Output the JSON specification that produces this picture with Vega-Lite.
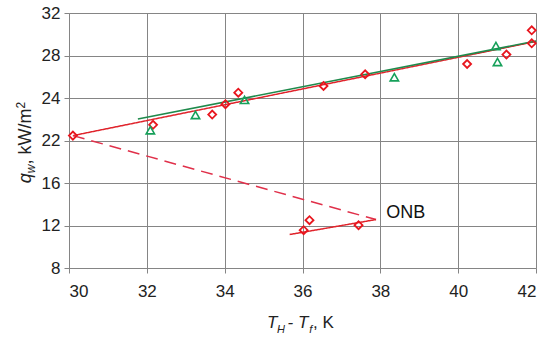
{
  "$schema": "https://vega.github.io/schema/vega-lite/v6.json",
  "width": 467,
  "height": 255,
  "autosize": "none",
  "padding": {"left": 69, "top": 13, "right": 14, "bottom": 76},
  "background": "white",
  "config": {
    "view": {"stroke": null},
    "font": "Liberation Sans",
    "axis": {
      "labelFont": "Liberation Sans",
      "titleFont": "Liberation Sans",
      "labelFontSize": 17,
      "labelColor": "#222222",
      "titleColor": "#222222",
      "titleFontWeight": "normal",
      "gridColor": "#858585",
      "gridOpacity": 1,
      "domainColor": "#858585",
      "tickColor": "#858585"
    }
  },
  "datasets": {
    "diamonds": [
      {"dT": 30.1, "q": 22.23},
      {"dT": 32.16, "q": 22.74},
      {"dT": 33.68, "q": 23.22},
      {"dT": 34.02, "q": 23.71},
      {"dT": 34.35, "q": 24.5},
      {"dT": 36.54, "q": 25.13},
      {"dT": 37.61, "q": 26.23},
      {"dT": 40.23, "q": 27.2},
      {"dT": 41.24, "q": 28.09},
      {"dT": 41.89, "q": 29.15},
      {"dT": 41.89, "q": 30.37},
      {"dT": 36.03, "q": 11.56},
      {"dT": 36.18, "q": 12.5},
      {"dT": 37.44, "q": 12.03}
    ],
    "triangles": [
      {"dT": 32.09, "q": 22.48},
      {"dT": 33.25, "q": 23.2},
      {"dT": 34.51, "q": 23.91},
      {"dT": 38.36, "q": 25.95},
      {"dT": 40.97, "q": 28.89},
      {"dT": 41.01, "q": 27.39}
    ],
    "lines": [
      {"dT": 30.1, "q": 22.23, "line": "fit red"},
      {"dT": 42.0, "q": 29.32, "line": "fit red"},
      {"dT": 30.1, "q": 22.23, "line": "dashed"},
      {"dT": 37.89, "q": 12.56, "line": "dashed"},
      {"dT": 35.67, "q": 11.15, "line": "low"},
      {"dT": 37.89, "q": 12.56, "line": "low"}
    ],
    "greenline": [
      {"dT": 31.77, "q": 23.01},
      {"dT": 42.0, "q": 29.36}
    ],
    "label": [
      {"dT": 38.15, "q": 13.22, "text": "ONB"}
    ]
  },
  "layer": [
    {
      "data": {"name": "lines"},
      "mark": {"type": "line", "strokeWidth": 1.5},
      "encoding": {
        "x": {
          "field": "dT", "type": "quantitative",
          "scale": {"domain": [30, 42], "nice": false, "zero": false},
          "axis": {
            "values": [30, 32, 34, 36, 38, 40, 42],
            "grid": true, "tickSize": 5, "labelPadding": 10,
            "title": "T", "titleFontStyle": "italic", "titleFontSize": 17,
            "titleX": 197.5, "titleY": 59.5, "titleAlign": "left", "titleBaseline": "alphabetic", "titleAnchor": null
          }
        },
        "y": {
          "field": "q", "type": "quantitative",
          "scale": {"domain": [8, 12, 16, 22, 24, 28, 32], "range": [255, 212.5, 170, 127.5, 85, 42.5, 0], "nice": false, "zero": false},
          "axis": {
            "values": [8, 12, 16, 22, 24, 28, 32],
            "grid": true, "tickSize": 5, "labelPadding": 4, "labelBaseline": "middle",
            "title": "q", "titleFontStyle": "italic", "titleFontSize": 18,
            "titleAngle": 270, "titleX": -38.3, "titleY": 169.7, "titleAlign": "left", "titleBaseline": "alphabetic", "titleAnchor": null
          }
        },
        "detail": {"field": "line"},
        "color": {
          "field": "line", "type": "nominal", "legend": null,
          "scale": {"domain": ["fit red", "dashed", "low"], "range": ["#e0242c", "#e0304a", "#e0242c"]}
        },
        "strokeDash": {
          "field": "line", "type": "nominal", "legend": null,
          "scale": {"domain": ["fit red", "dashed", "low"], "range": [[1, 0], [12, 7], [1, 0]]}
        }
      }
    },
    {
      "data": {"name": "greenline"},
      "mark": {"type": "line", "strokeWidth": 1.6, "color": "#1f8a4c"},
      "encoding": {
        "x": {
          "field": "dT", "type": "quantitative",
          "axis": {
            "orient": "bottom", "grid": false, "labels": false, "ticks": false, "domain": false,
            "title": ", K", "titleFontStyle": "normal", "titleFontSize": 17,
            "titleX": 243.5, "titleY": 59.5, "titleAlign": "left", "titleBaseline": "alphabetic", "titleAnchor": null
          }
        },
        "y": {
          "field": "q", "type": "quantitative",
          "axis": null
        }
      }
    },
    {
      "data": {"name": "diamonds"},
      "mark": {"type": "point", "shape": "diamond", "filled": false, "size": 64, "strokeWidth": 1.8, "color": "#e8161e", "opacity": 1},
      "encoding": {
        "x": {
          "field": "dT", "type": "quantitative",
          "axis": {
            "orient": "bottom", "grid": false, "labels": false, "ticks": false, "domain": false,
            "title": "H", "titleFontStyle": "italic", "titleFontSize": 11,
            "titleX": 207.5, "titleY": 64, "titleAlign": "left", "titleBaseline": "alphabetic", "titleAnchor": null
          }
        },
        "y": {
          "field": "q", "type": "quantitative",
          "axis": {
            "orient": "left", "grid": false, "labels": false, "ticks": false, "domain": false,
            "title": "w", "titleFontStyle": "italic", "titleFontSize": 12,
            "titleAngle": 270, "titleX": -34.3, "titleY": 159.7, "titleAlign": "left", "titleBaseline": "alphabetic", "titleAnchor": null
          }
        }
      }
    },
    {
      "data": {"name": "triangles"},
      "mark": {"type": "point", "shape": "triangle-up", "filled": false, "size": 70, "strokeWidth": 1.6, "color": "#16a05a", "opacity": 1},
      "encoding": {
        "x": {
          "field": "dT", "type": "quantitative",
          "axis": {
            "orient": "bottom", "grid": false, "labels": false, "ticks": false, "domain": false,
            "title": "- T", "titleFontStyle": "italic", "titleFontSize": 17,
            "titleX": 218, "titleY": 59.5, "titleAlign": "left", "titleBaseline": "alphabetic", "titleAnchor": null
          }
        },
        "y": {
          "field": "q", "type": "quantitative",
          "axis": {
            "orient": "left", "grid": false, "labels": false, "ticks": false, "domain": false,
            "title": ", kW/m", "titleFontStyle": "normal", "titleFontSize": 18,
            "titleAngle": 270, "titleX": -38.3, "titleY": 151, "titleAlign": "left", "titleBaseline": "alphabetic", "titleAnchor": null
          }
        }
      }
    },
    {
      "data": {"name": "label"},
      "mark": {"type": "text", "align": "left", "baseline": "middle", "fontSize": 18, "font": "Liberation Sans", "color": "#111111"},
      "encoding": {
        "x": {
          "field": "dT", "type": "quantitative",
          "axis": {
            "orient": "bottom", "grid": false, "labels": false, "ticks": false, "domain": false,
            "title": "f", "titleFontStyle": "italic", "titleFontSize": 11,
            "titleX": 239.8, "titleY": 64, "titleAlign": "left", "titleBaseline": "alphabetic", "titleAnchor": null
          }
        },
        "y": {
          "field": "q", "type": "quantitative",
          "axis": {
            "orient": "left", "grid": false, "labels": false, "ticks": false, "domain": false,
            "title": "2", "titleFontStyle": "normal", "titleFontSize": 12,
            "titleAngle": 270, "titleX": -45, "titleY": 95, "titleAlign": "left", "titleBaseline": "alphabetic", "titleAnchor": null
          }
        },
        "text": {"field": "text"}
      }
    }
  ],
  "resolve": {"axis": {"x": "independent", "y": "independent"}}
}
